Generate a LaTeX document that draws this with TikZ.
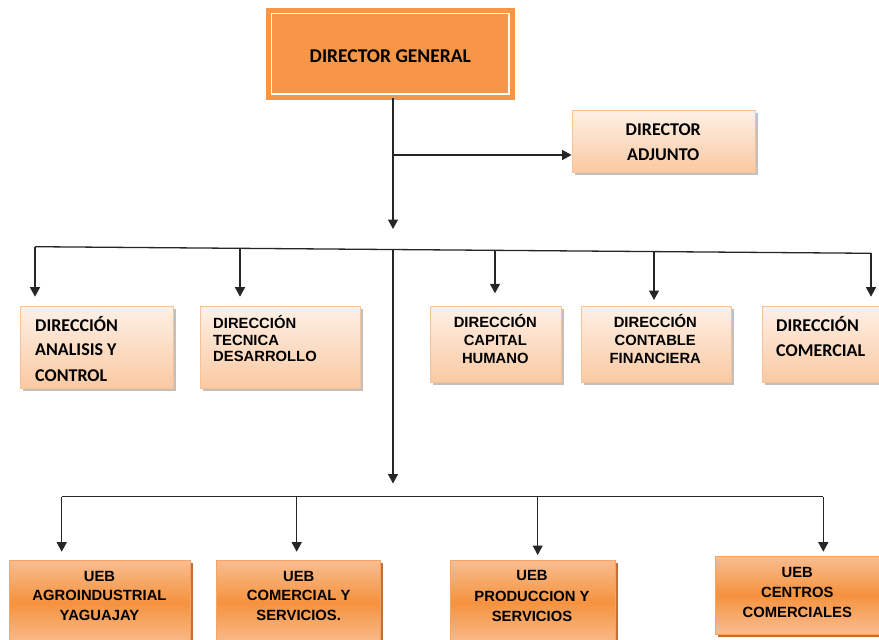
\documentclass[tikz,border=0pt]{standalone}
\usepackage{fontspec}
\setmainfont{Liberation Sans}
\newfontfamily\carl{Carlito}
\usetikzlibrary{arrows.meta,shadows}
\definecolor{dgorange}{HTML}{F79646}
\definecolor{lvborder}{HTML}{F8C196}
\definecolor{lvtop}{HTML}{FEF0E6}
\definecolor{lvbot}{HTML}{FAC9A2}
\definecolor{ubborder}{HTML}{F7A362}
\definecolor{ubedge}{HTML}{F9BD91}
\definecolor{ubmid}{HTML}{F5923E}
\definecolor{ubshadow}{HTML}{B9601F}
\tikzset{
  lvtwo/.style={draw=lvborder, line width=0.8pt, top color=lvtop, bottom color=lvbot,
    drop shadow={shadow xshift=2.5pt, shadow yshift=-2.5pt, fill=black!45, opacity=0.55}},
  ueb/.style={draw=ubborder, line width=0.8pt, top color=ubedge, bottom color=ubedge, middle color=ubmid,
    drop shadow={shadow xshift=2.5pt, shadow yshift=-2.5pt, fill=ubshadow, opacity=0.9}},
  tcal/.style={font=\carl\bfseries\fontsize{18}{20}\selectfont, inner sep=0pt, text=black},
  tari/.style={font=\bfseries\fontsize{14.8}{17}\selectfont, inner sep=0pt, text=black},
  conn/.style={line width=1.3pt, draw=black!85},
  arr/.style={conn, -{Triangle[length=9.5pt,width=10pt]}}
}
\begin{document}
\begin{tikzpicture}[x=1pt,y=-1pt]
\useasboundingbox (0,0) rectangle (879,640);
% Director general
\node[fill=dgorange, draw=white, line width=1.3pt, double=dgorange, double distance=5pt, minimum width=244pt, minimum height=87pt, inner sep=0pt] (dg) at (390,53.5) {};
\node[font=\carl\bfseries\fontsize{19.5}{22}\selectfont, inner sep=0pt, anchor=base, text=black] (dgt) at (390.3,62) {DIRECTOR GENERAL};
% Director adjunto
\node[lvtwo, minimum width=183pt, minimum height=62pt] (adj) at (663.5,141) {};
\node[tcal, anchor=base] (adjt1) at (663.3,135.6) {DIRECTOR};
\node[tcal, anchor=base] (adjt2) at (663.3,160.3) {ADJUNTO};
% Direcciones
\node[lvtwo, minimum width=153pt, minimum height=81.6pt] (a1) at (96.5,347.5) {};
\node[lvtwo, minimum width=160pt, minimum height=81.6pt] (a2) at (280,347.5) {};
\node[lvtwo, minimum width=131.7pt, minimum height=76pt] (a3) at (495.85,344.7) {};
\node[lvtwo, minimum width=150pt, minimum height=76pt] (a4) at (656.7,344.7) {};
\node[lvtwo, minimum width=127.7pt, minimum height=76pt] (a5) at (826.15,344.7) {};
\node[tcal, anchor=base west] (a1t1) at (35,331.8) {DIRECCIÓN};
\node[tcal, anchor=base west] (a1t2) at (35,355.5) {ANALISIS Y};
\node[tcal, anchor=base west] (a1t3) at (35,381.2) {CONTROL};
\node[tari, anchor=base west] (a2t1) at (213,328.6) {DIRECCIÓN};
\node[tari, anchor=base west] (a2t2) at (213,345) {TECNICA};
\node[tari, anchor=base west] (a2t3) at (213,361.8) {DESARROLLO};
\node[tari, anchor=base] (a3t1) at (495.3,327.6) {DIRECCIÓN};
\node[tari, anchor=base] (a3t2) at (495.3,345.3) {CAPITAL};
\node[tari, anchor=base] (a3t3) at (495.3,363) {HUMANO};
\node[tari, anchor=base] (a4t1) at (655.3,327.6) {DIRECCIÓN};
\node[tari, anchor=base] (a4t2) at (655.3,345.3) {CONTABLE};
\node[tari, anchor=base] (a4t3) at (655.3,363) {FINANCIERA};
\node[tcal, anchor=base west] (a5t1) at (776,331.8) {DIRECCIÓN};
\node[tcal, anchor=base west] (a5t2) at (776,356.8) {COMERCIAL};
% UEB
\node[ueb, minimum width=181pt, minimum height=85pt] (b1) at (99.5,602.5) {};
\node[ueb, minimum width=163.3pt, minimum height=85pt] (b2) at (298.35,602.5) {};
\node[ueb, minimum width=165pt, minimum height=85pt] (b3) at (532.5,602.5) {};
\node[ueb, minimum width=179.3pt, minimum height=78pt] (b4) at (805.35,595) {};
\node[tari, anchor=base] (b1t1) at (99.5,581.1) {UEB};
\node[tari, anchor=base] (b1t2) at (99.5,600.6) {AGROINDUSTRIAL};
\node[tari, anchor=base] (b1t3) at (99.5,620.6) {YAGUAJAY};
\node[tari, anchor=base] (b2t1) at (298.7,581.1) {UEB};
\node[tari, anchor=base] (b2t2) at (298.7,600.6) {COMERCIAL Y};
\node[tari, anchor=base] (b2t3) at (298.7,620.6) {SERVICIOS.};
\node[tari, anchor=base] (b3t1) at (532,580.5) {UEB};
\node[tari, anchor=base] (b3t2) at (532,601.1) {PRODUCCION Y};
\node[tari, anchor=base] (b3t3) at (532,621.1) {SERVICIOS};
\node[tari, anchor=base] (b4t1) at (797.3,577) {UEB};
\node[tari, anchor=base] (b4t2) at (797.3,597) {CENTROS};
\node[tari, anchor=base] (b4t3) at (797.3,617.5) {COMERCIALES};
% connector coordinates
\coordinate (t1) at (393,229);
\coordinate (j1) at (393,155);
\coordinate (hL) at (35,246.7);
\coordinate (hR) at (871,253.3);
\coordinate (h2) at (240,248.3);
\coordinate (h3) at (495,250.3);
\coordinate (h4) at (654,251.6);
\coordinate (hm) at (393,249.5);
\coordinate (e1) at (35,296.7);
\coordinate (e2) at (240,296.7);
\coordinate (e3) at (495,293.3);
\coordinate (e4) at (654,300);
\coordinate (e5) at (871,296.7);
\coordinate (t2) at (393,483.5);
\coordinate (gL) at (61.7,496.7);
\coordinate (gR) at (823.3,496.7);
\coordinate (g2) at (296.7,496.7);
\coordinate (g3) at (537.7,496.7);
\coordinate (f1) at (61.7,551.7);
\coordinate (f2) at (296.7,551.7);
\coordinate (f3) at (537.7,555);
\coordinate (f4) at (823.3,551.7);
% connectors
\draw[arr] (t1 |- dg.south) -- (t1);
\draw[arr] (j1) -- (j1 -| adj.west);
\draw[conn] (hL) -- (hR);
\draw[arr] (hL) -- (e1);
\draw[arr] (h2) -- (e2);
\draw[arr] (h3) -- (e3);
\draw[arr] (h4) -- (e4);
\draw[arr] (hR) -- (e5);
\draw[arr] (hm) -- (t2);
\draw[conn] (gL) -- (gR);
\draw[arr] (gL) -- (f1);
\draw[arr] (g2) -- (f2);
\draw[arr] (g3) -- (f3);
\draw[arr] (gR) -- (f4);
\end{tikzpicture}
\end{document}
